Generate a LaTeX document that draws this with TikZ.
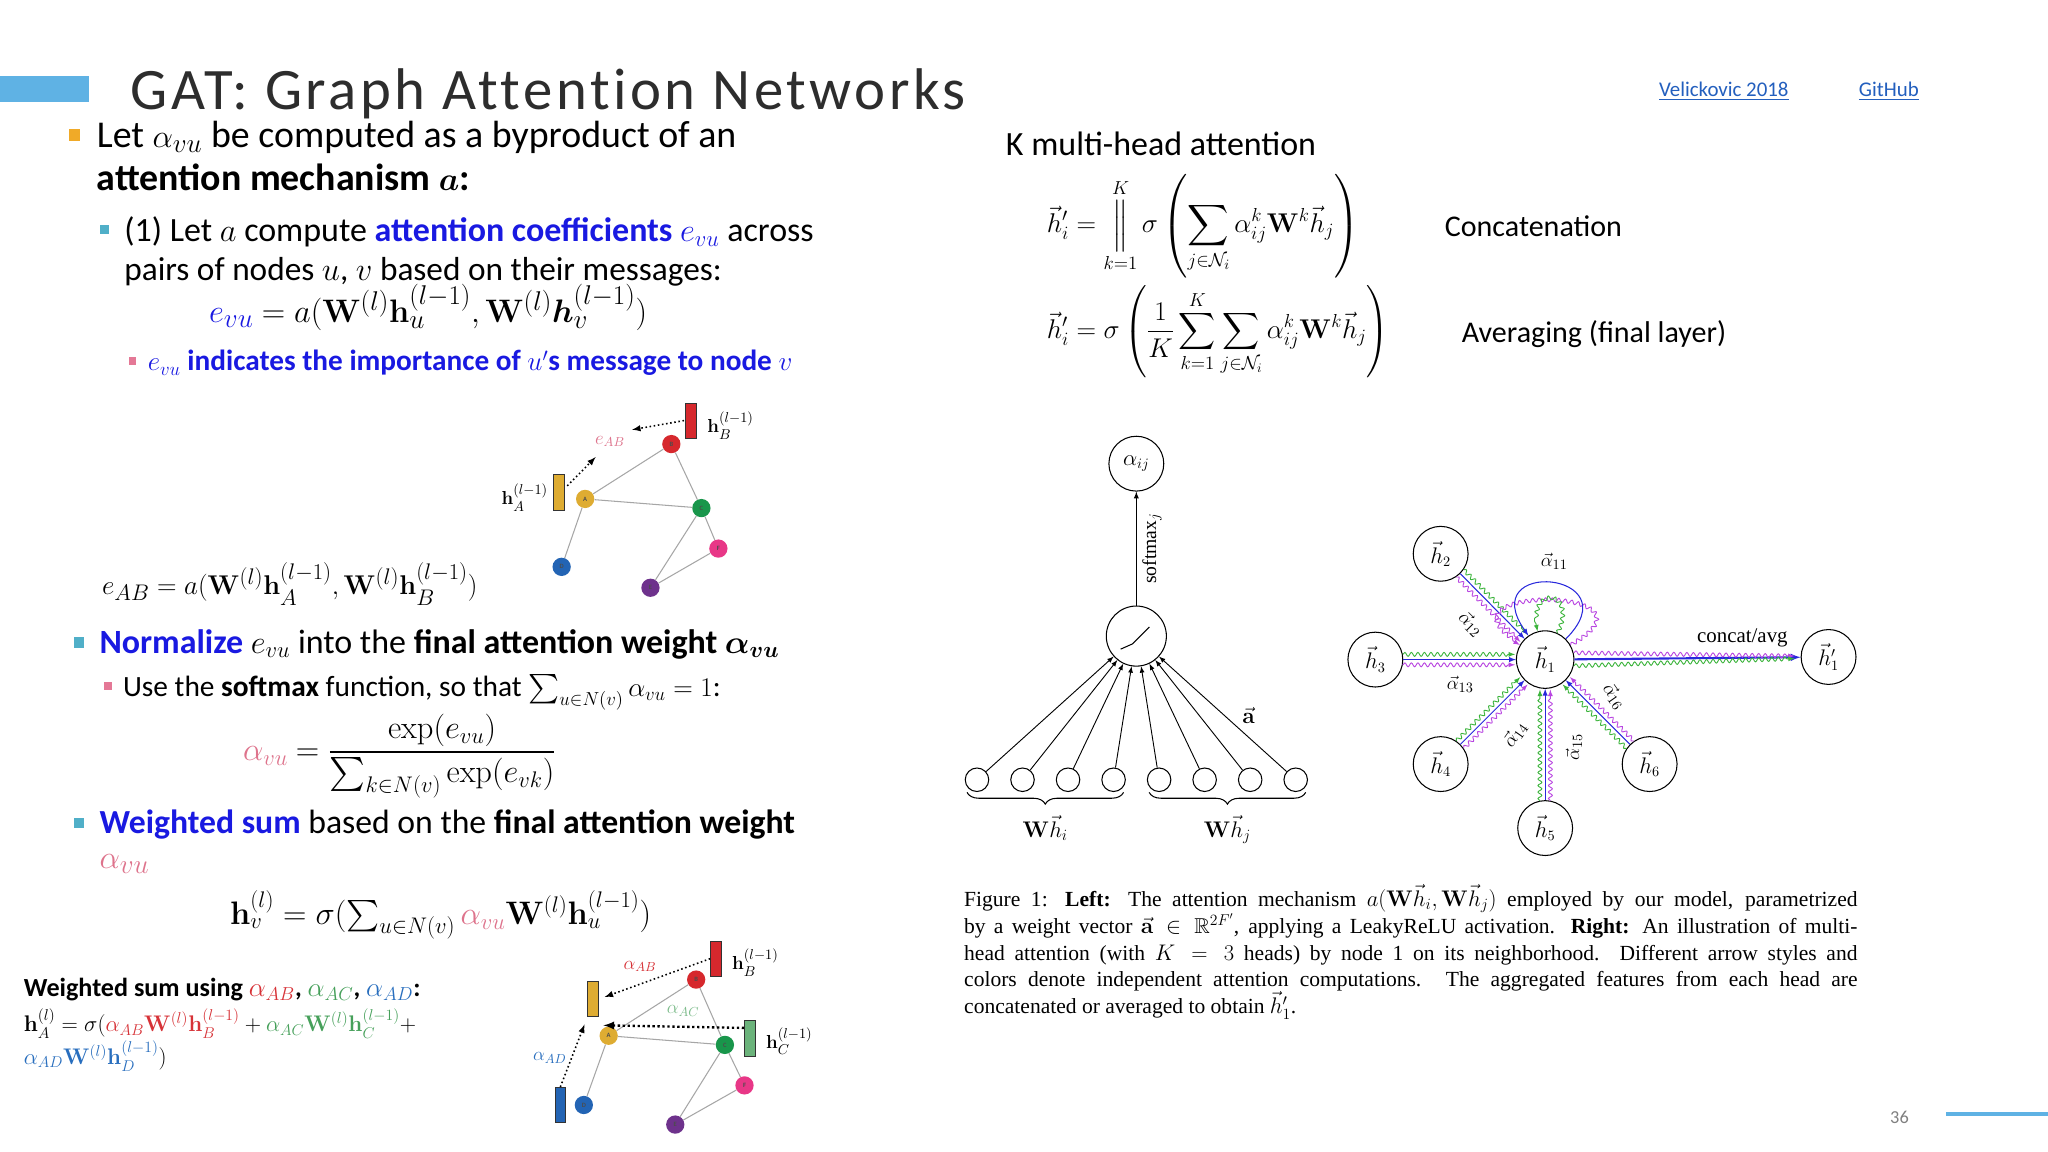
\documentclass[tikz,border=0pt]{standalone}
\usepackage{amsmath,amssymb}
\usepackage[no-math]{fontspec}
\setmainfont{Carlito}
\newfontfamily\paperfont{Liberation Serif}
\newfontfamily\titlefont[LetterSpace=6, Ligatures=NoCommon]{Carlito}
\usetikzlibrary{shapes,arrows,calc,decorations.pathmorphing,decorations.pathreplacing}

\definecolor{titlegray}{RGB}{45,45,45}
\definecolor{barblue}{RGB}{95,178,228}
\definecolor{linkblue}{RGB}{35,95,190}
\definecolor{textblue}{RGB}{25,25,225}
\definecolor{alphapink}{RGB}{222,115,140}
\definecolor{bulorange}{RGB}{240,170,40}
\definecolor{bulteal}{RGB}{80,175,200}
\definecolor{bulpink}{RGB}{228,120,150}
\definecolor{nodeA}{RGB}{222,172,50}
\definecolor{nodeB}{RGB}{214,40,45}
\definecolor{nodeC}{RGB}{25,150,75}
\definecolor{nodeD}{RGB}{35,100,180}
\definecolor{nodeE}{RGB}{110,50,140}
\definecolor{nodeF}{RGB}{232,55,135}
\definecolor{headgreen}{RGB}{60,180,60}
\definecolor{headpurple}{RGB}{185,70,225}
\definecolor{headblue}{RGB}{40,40,220}
\definecolor{sumred}{RGB}{215,50,55}
\definecolor{sumgreen}{RGB}{70,160,90}
\definecolor{sumblue}{RGB}{40,110,190}

\newcommand\setsz[1]{\fontsize{#1}{#1}\selectfont}

\begin{document}
\begin{tikzpicture}[x=1pt, y=1pt, >=latex]

% Define styles
\tikzstyle{txt} = [anchor=base west, inner sep=0pt, text=black]
\tikzstyle{bullet} = [rectangle, inner sep=0pt, minimum size=8pt]
\tikzstyle{gnode} = [circle, inner sep=0pt, minimum size=14pt, font=\setsz{5}\bfseries, text=black!70]
\tikzstyle{feat} = [rectangle, draw=black!80, line width=0.6pt, inner sep=0pt, minimum width=8pt, minimum height=27pt]
\tikzstyle{gedge} = [gray!70, line width=0.8pt]
\tikzstyle{msg} = [dotted, line width=1.2pt, ->]
\tikzstyle{inunit} = [circle, draw, line width=0.8pt, inner sep=0pt, minimum size=18pt]
\tikzstyle{headnode} = [circle, draw, line width=0.8pt, inner sep=0pt, minimum size=42pt, font=\setsz{16}]
\tikzstyle{wave} = [decorate, decoration={snake, amplitude=1.5pt, segment length=5pt, post length=5pt}, line width=0.7pt, ->]

\useasboundingbox (0,0) rectangle (1568,-882);
\fill[white] (0,0) rectangle (1568,-882);

% Title and links
\fill[barblue] (0,-58) rectangle (68,-78);
\node[txt, font=\titlefont\setsz{45}, text=titlegray] (title) at (100,-84) {GAT: Graph Attention Networks};
\node[txt, font=\setsz{16}, text=linkblue] (paper) at (1270,-74) {\underline{Velickovic 2018}};
\node[txt, font=\setsz{16}, text=linkblue] (github) at (1423,-74) {\underline{GitHub}};

% Bullets on the left
\node[bullet, fill=bulorange, minimum size=9pt] (b1) at (57,-103.5) {};
\node[txt, font=\setsz{29}] (l1) at (74,-113) {Let $\alpha_{vu}$ be computed as a byproduct of an};
\node[txt, font=\setsz{29}] (l2) at (74,-146) {\textbf{attention mechanism $\boldsymbol{a}$:}};

\node[bullet, fill=bulteal, minimum size=7pt] (b11) at (80,-176) {};
\node[txt, font=\setsz{26}] (s1) at (95,-185) {(1) Let $a$ compute \textcolor{textblue}{\textbf{attention coefficients} $e_{vu}$} across};
\node[txt, font=\setsz{25.5}] (s2) at (95,-215) {pairs of nodes $u$, $v$ based on their messages:};
\node[txt, font=\setsz{28}] (f1) at (160,-247) {$\color{textblue}e_{vu}$ $= a(\mathbf{W}^{(l)}\mathbf{h}_u^{(l-1)},\mathbf{W}^{(l)}\boldsymbol{h}_v^{(l-1)})$};

\node[bullet, fill=bulpink, minimum size=6pt] (b111) at (101.5,-276.5) {};
\node[txt, font=\setsz{22.4}, text=textblue] (ss1) at (113,-284) {\textbf{$e_{vu}$ indicates the importance of $u'$s message to node $v$}};

\node[txt, font=\setsz{22.8}] (f2) at (78,-455) {$e_{AB} = a(\mathbf{W}^{(l)}\mathbf{h}_A^{(l-1)},\mathbf{W}^{(l)}\mathbf{h}_B^{(l-1)})$};

\node[bullet, fill=bulteal] (b2) at (60.5,-492) {};
\node[txt, font=\setsz{26}] (l3) at (76,-500) {\textcolor{textblue}{\textbf{Normalize}} $e_{vu}$ into the \textbf{final attention weight $\boldsymbol{\alpha_{vu}}$}};
\node[bullet, fill=bulpink, minimum size=6pt] (b21) at (82.5,-525) {};
\node[txt, font=\setsz{22.5}] (s3) at (94,-533) {Use the \textbf{softmax} function, so that $\sum_{u\in N(v)}\alpha_{vu}=1$:};
\node[txt, font=\setsz{26}] (f3) at (186,-582) {$\color{alphapink}\alpha_{vu}$ $=\dfrac{\exp(e_{vu})}{\sum_{k\in N(v)}\exp(e_{vk})}$};

\node[bullet, fill=bulteal] (b3) at (60.5,-630) {};
\node[txt, font=\setsz{25.8}] (l4) at (76,-638) {\textcolor{textblue}{\textbf{Weighted sum}} based on the \textbf{final attention weight}};
\node[txt, font=\setsz{28}] (l5) at (76,-665) {$\color{alphapink}\alpha_{vu}$};
\node[txt, font=\setsz{24}] (f4) at (176,-708) {$\mathbf{h}_v^{(l)} = \sigma(\sum_{u\in N(v)}{\color{alphapink}\alpha_{vu}}\mathbf{W}^{(l)}\mathbf{h}_u^{(l-1)})$};

\node[txt, font=\setsz{20}] (w1) at (18,-763) {\textbf{Weighted sum using ${\color{sumred}\alpha_{AB}}$, ${\color{sumgreen}\alpha_{AC}}$, ${\color{sumblue}\alpha_{AD}}$:}};
\node[txt, font=\setsz{18.8}] (w2) at (18,-790) {$\mathbf{h}_A^{(l)} = \sigma({\color{sumred}\alpha_{AB}\mathbf{W}^{(l)}\mathbf{h}_B^{(l-1)}}+{\color{sumgreen}\alpha_{AC}\mathbf{W}^{(l)}\mathbf{h}_C^{(l-1)}}+$};
\node[txt, font=\setsz{18.8}] (w3) at (18,-815) {${\color{sumblue}\alpha_{AD}\mathbf{W}^{(l)}\mathbf{h}_D^{(l-1)}})$};

% Graph with e_AB
\node[gnode, fill=nodeB] (gB) at (514,-340) {B};
\node[gnode, fill=nodeA] (gA) at (448,-382) {A};
\node[gnode, fill=nodeC] (gC) at (537,-389) {C};
\node[gnode, fill=nodeF] (gF) at (550,-420) {F};
\node[gnode, fill=nodeD] (gD) at (430,-434) {D};
\node[gnode, fill=nodeE] (gE) at (498,-450) {E};
\draw[gedge] (gA) -- (gB) (gA) -- (gC) (gB) -- (gC) (gA) -- (gD) (gC) -- (gE) (gC) -- (gF) (gE) -- (gF);
\node[feat, fill=nodeB] (barB) at (529,-322) {};
\node[feat, fill=nodeA] (barA) at (428,-377) {};
\node[anchor=west, font=\setsz{15}] (labB) at (538,-326) {$\mathbf{h}_B^{(l-1)}$};
\node[anchor=east, font=\setsz{15}] (labA) at (423,-381) {$\mathbf{h}_A^{(l-1)}$};
\node[text=alphapink, font=\setsz{14}] (eAB) at (467,-338) {$e_{AB}$};
\coordinate (tipB) at (484,-329);
\coordinate (tipA) at (456,-350);
\draw[msg] ($(barB.west)+(-1,0)$) -- (tipB);
\draw[msg] ($(barA.east)+(2,5)$) -- (tipA);

% Graph with weighted sum
\node[gnode, fill=nodeB] (kB) at (533,-750) {B};
\node[gnode, fill=nodeA] (kA) at (466,-793) {A};
\node[gnode, fill=nodeC] (kC) at (555,-800) {C};
\node[gnode, fill=nodeF] (kF) at (570,-831) {F};
\node[gnode, fill=nodeD] (kD) at (447,-846) {D};
\node[gnode, fill=nodeE] (kE) at (517,-861) {E};
\draw[gedge] (kA) -- (kB) (kA) -- (kC) (kB) -- (kC) (kA) -- (kD) (kC) -- (kE) (kC) -- (kF) (kE) -- (kF);
\node[feat, fill=nodeB] (fB) at (548,-734) {};
\node[feat, fill=nodeA] (fA) at (454,-765) {};
\node[feat, fill=sumgreen!80] (fC) at (574,-795) {};
\node[feat, fill=nodeD] (fD) at (429,-846) {};
\node[anchor=west, font=\setsz{15}] (labkB) at (557,-737) {$\mathbf{h}_B^{(l-1)}$};
\node[anchor=west, font=\setsz{15}] (labkC) at (583,-797) {$\mathbf{h}_C^{(l-1)}$};
\node[text=sumred, font=\setsz{14}] (aAB) at (490,-740) {$\alpha_{AB}$};
\node[text=sumgreen!70, font=\setsz{14}] (aAC) at (523,-774) {$\alpha_{AC}$};
\node[text=sumblue, font=\setsz{14}] (aAD) at (421,-810) {$\alpha_{AD}$};
\coordinate (tipkC) at (462,-785);
\draw[msg, shorten >=5pt] (fB.west) -- (fA.east);
\draw[msg, line width=1.8pt] ($(fC.west)+(0,8)$) -- (tipkC);
\draw[msg, shorten >=6pt] (fD.north) -- (fA.south west);

% K multi-head attention
\node[txt, font=\setsz{26}] (khead) at (770,-119) {K multi-head attention};
\node[anchor=west, font=\setsz{22}] (concat) at (798,-173) {$\displaystyle \vec{h}'_i=\mathop{\Big\|}\limits_{k=1}^{K}\sigma\left(\sum_{j\in\mathcal{N}_i}\alpha_{ij}^k\mathbf{W}^k\vec{h}_j\right)$};
\node[anchor=west, font=\setsz{19.7}] (avg) at (798,-254) {$\displaystyle \vec{h}'_i=\sigma\left(\frac{1}{K}\sum_{k=1}^{K}\sum_{j\in\mathcal{N}_i}\alpha_{ij}^k\mathbf{W}^k\vec{h}_j\right)$};
\node[txt, font=\setsz{23}] (concatlab) at (1106,-181) {Concatenation};
\node[txt, font=\setsz{23}] (avglab) at (1119,-262) {Averaging (final layer)};

% Attention mechanism
\node[headnode] (aij) at (870,-355) {$\alpha_{ij}$};
\node[circle, draw, line width=0.8pt, minimum size=46pt] (att) at (870,-487) {};
\draw[line width=0.8pt] ($(att)+(-12,-10)$) -- ($(att)+(-3,-6)$) -- ($(att)+(10,7)$);
\draw[->, line width=0.8pt] (att) -- (aij);
\node[rotate=90, font=\paperfont\setsz{15}] (smax) at (882,-420) {softmax$_j$};
\foreach \i in {0,...,7} {
  \node[inunit] (w\i) at ({748+34.86*\i},-597) {};
  \draw[->, line width=0.7pt] (w\i) -- (att);
}
\node[font=\setsz{16}] (avec) at (956,-548) {$\vec{\mathbf{a}}$};
\draw[decorate, decoration={brace, mirror, amplitude=9pt}, line width=0.8pt] ($(w0.south west)+(-1,-3)$) -- ($(w3.south east)+(1,-3)$) node[midway, below=14pt, font=\setsz{17}] {$\mathbf{W}\vec{h}_i$};
\draw[decorate, decoration={brace, mirror, amplitude=9pt}, line width=0.8pt] ($(w4.south west)+(-1,-3)$) -- ($(w7.south east)+(1,-3)$) node[midway, below=14pt, font=\setsz{17}] {$\mathbf{W}\vec{h}_j$};

% Multi-head attention on node 1
\node[headnode, minimum size=44pt] (h1) at (1183,-505) {$\vec{h}_1$};
\node[headnode] (h2) at (1103,-424) {$\vec{h}_2$};
\node[headnode] (h3) at (1053,-505) {$\vec{h}_3$};
\node[headnode] (h4) at (1103,-585) {$\vec{h}_4$};
\node[headnode] (h5) at (1183,-634) {$\vec{h}_5$};
\node[headnode] (h6) at (1263,-585) {$\vec{h}_6$};
\node[headnode] (h1p) at (1400,-503) {$\vec{h}'_1$};
\foreach \n in {2,...,6} {
  \draw[headblue, line width=0.8pt, ->] (h\n) -- (h1);
  \draw[wave, headgreen] ($(h\n)!21pt!(h1)!4pt!90:(h1)$) -- ($(h1)!23pt!(h\n)!4pt!-90:(h\n)$);
  \draw[wave, headpurple] ($(h\n)!21pt!(h1)!4pt!-90:(h1)$) -- ($(h1)!23pt!(h\n)!4pt!90:(h\n)$);
}
\draw[wave, headpurple] (h1) to[out=30, in=150, looseness=6] (h1);
\draw[headblue, line width=0.8pt, ->] (h1) to[out=45, in=125, looseness=6.5] (h1);
\draw[wave, headgreen] (h1) to[out=65, in=105, looseness=6] (h1);
\draw[headblue, line width=1.6pt, ->] (h1) -- (h1p);
\draw[wave, headpurple] ($(h1)!22pt!(h1p)!5pt!90:(h1p)$) -- ($(h1p)!26pt!(h1)!1pt!-90:(h1)$);
\draw[wave, headgreen] ($(h1)!22pt!(h1p)!5pt!-90:(h1p)$) -- ($(h1p)!26pt!(h1)!1pt!90:(h1)$);
\node[font=\paperfont\setsz{16}] (catlab) at (1334,-488) {concat/avg};
\node[font=\setsz{15}] (a11) at (1190,-430) {$\vec{\alpha}_{11}$};
\node[font=\setsz{15}, rotate=-45] (a12) at (1126,-478) {$\vec{\alpha}_{12}$};
\node[font=\setsz{15}] (a13) at (1118,-524) {$\vec{\alpha}_{13}$};
\node[font=\setsz{15}, rotate=55] (a14) at (1160,-562) {$\vec{\alpha}_{14}$};
\node[font=\setsz{15}, rotate=90] (a15) at (1205,-572) {$\vec{\alpha}_{15}$};
\node[font=\setsz{15}, rotate=-55] (a16) at (1236,-533) {$\vec{\alpha}_{16}$};

% Caption
\node[anchor=north west, inner sep=0pt, text width=684pt, align=justify, font=\paperfont\fontsize{16.5}{20.5}\selectfont] (caption) at (738,-677) {Figure 1: \textbf{Left:} The attention mechanism $a(\mathbf{W}\vec{h}_i,\mathbf{W}\vec{h}_j)$ employed by our model, parametrized\linebreak by a weight vector $\vec{\mathbf{a}}\in\mathbb{R}^{2F'}$, applying a LeakyReLU activation. \textbf{Right:} An illustration of multi-\linebreak head attention (with $K=3$ heads) by node 1 on its neighborhood. Different arrow styles and\linebreak colors denote independent attention computations. The aggregated features from each head are\linebreak concatenated or averaged to obtain $\vec{h}'_1$.};

% Page number
\node[txt, font=\setsz{14}, text=gray] (pagenum) at (1447,-860) {36};
\draw[barblue, line width=3pt] (1490,-853) -- (1568,-853);

\end{tikzpicture}
\end{document}
